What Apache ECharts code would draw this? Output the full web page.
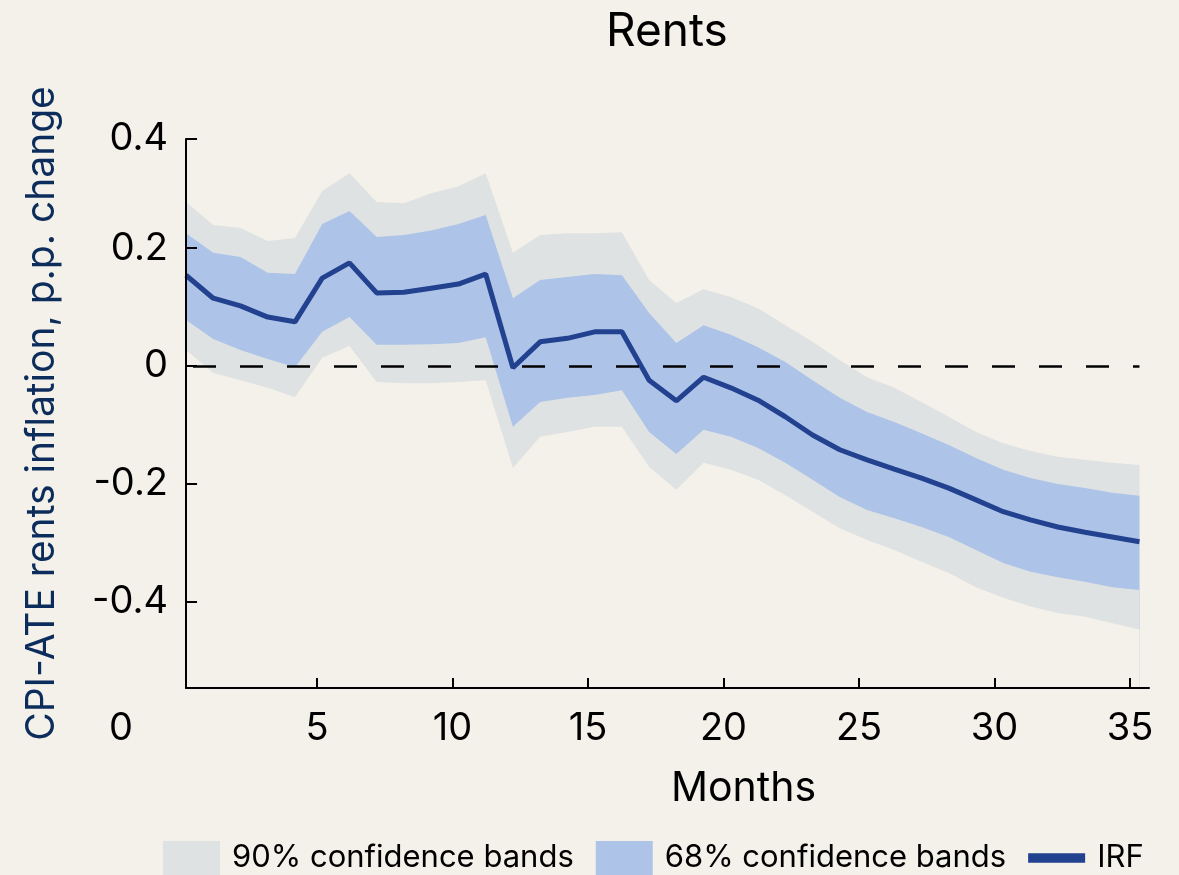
<!DOCTYPE html>
<html>
<head>
<meta charset="utf-8">
<script src="https://cdn.jsdelivr.net/npm/echarts@6/dist/echarts.min.js"></script>
<style>
html, body { margin: 0; background: #f4f1ea; }
#chart { width: 1179px; height: 875px; }
</style>
</head>
<body>
<div id="chart"></div>
<script>
const months = [0, 1, 2, 3, 4, 5, 6, 7, 8, 9, 10, 11, 12, 13, 14, 15, 16, 17, 18, 19, 20, 21, 22, 23, 24, 25, 26, 27, 28, 29, 30, 31, 32, 33, 34, 35]
const irf = [0.154, 0.115, 0.102, 0.083, 0.075, 0.149, 0.175, 0.124, 0.125, 0.132, 0.139, 0.156, -0.003, 0.041, 0.047, 0.058, 0.058, -0.024, -0.059, -0.019, -0.037, -0.058, -0.086, -0.117, -0.142, -0.159, -0.175, -0.19, -0.207, -0.227, -0.247, -0.261, -0.273, -0.282, -0.29, -0.298]
const hi68 = [0.225, 0.192, 0.185, 0.158, 0.156, 0.241, 0.263, 0.219, 0.222, 0.23, 0.241, 0.256, 0.115, 0.146, 0.151, 0.156, 0.154, 0.09, 0.039, 0.069, 0.053, 0.032, 0.007, -0.024, -0.054, -0.078, -0.095, -0.114, -0.134, -0.156, -0.176, -0.19, -0.2, -0.207, -0.215, -0.22]
const lo68 = [0.078, 0.046, 0.027, 0.012, -0.002, 0.058, 0.083, 0.036, 0.036, 0.037, 0.039, 0.049, -0.103, -0.061, -0.054, -0.049, -0.041, -0.112, -0.149, -0.108, -0.12, -0.139, -0.164, -0.193, -0.222, -0.244, -0.258, -0.273, -0.29, -0.312, -0.334, -0.349, -0.358, -0.366, -0.375, -0.38]
const hi90 = [0.278, 0.239, 0.234, 0.212, 0.217, 0.297, 0.327, 0.278, 0.276, 0.293, 0.305, 0.327, 0.192, 0.222, 0.225, 0.225, 0.227, 0.146, 0.107, 0.13, 0.117, 0.098, 0.069, 0.041, 0.01, -0.019, -0.037, -0.061, -0.086, -0.112, -0.131, -0.144, -0.154, -0.159, -0.164, -0.168]
const lo90 = [0.027, -0.012, -0.024, -0.037, -0.053, 0.014, 0.034, -0.027, -0.029, -0.029, -0.027, -0.024, -0.173, -0.12, -0.112, -0.103, -0.103, -0.171, -0.21, -0.164, -0.176, -0.193, -0.219, -0.247, -0.275, -0.295, -0.312, -0.332, -0.351, -0.375, -0.393, -0.408, -0.419, -0.425, -0.436, -0.447]

const xTicks = [5, 10, 15, 20, 25, 30, 35]
const yTicks = [-0.4, -0.2, 0, 0.2]

// axis extents (tick axis sits a bit left of the plotted data)
const xMin = 0.166, xMax = 35.7
const yMin = -0.546, yMax = 0.385

const bg = '#f4f1ea'
const grey = '#dfe2e3'
const blue = '#adc3e8'
const navy = '#22418f'
const font = 'Inter'

const myChart = echarts.init(document.getElementById('chart'), null, { renderer: 'canvas' })

const pairs = (vals) => months.map((m, i) => [m, vals[i]])

// bands are painted as filled areas from the bottom, each one over the previous
const fillTo = (name, vals, color) => ({
	name: name,
	type: 'line',
	xAxisIndex: 1,
	symbol: 'none',
	silent: true,
	data: pairs(vals),
	itemStyle: { color: color },
	lineStyle: { width: 0, opacity: 0 },
	areaStyle: { color: color, opacity: 1, origin: 'start' },
})

let option = {
	backgroundColor: bg,
	animation: false,
	textStyle: { fontFamily: font },
	title: [
		{ text: 'Rents', left: 601, top: 4, textStyle: { fontFamily: font, fontSize: 46, fontWeight: 'normal', color: '#000' } },
		{ text: 'Months', left: 666, top: 763, textStyle: { fontFamily: font, fontSize: 41, fontWeight: 'normal', color: '#000' } },
	],
	legend: {
		left: 163,
		top: 841,
		padding: 0,
		itemWidth: 57,
		itemHeight: 34,
		itemGap: 22,
		selectedMode: false,
		symbolKeepAspect: true,
		textStyle: { fontFamily: font, fontSize: 31, color: '#000', padding: [0, 0, 0, 7] },
		data: [
			{ name: '90% confidence bands', icon: 'rect' },
			{ name: '68% confidence bands', icon: 'rect' },
			{ name: 'IRF', icon: 'path://M0,0H60V10H0Z', itemStyle: { color: navy } },
		],
	},
	grid: { left: 186, right: 30, top: 139, bottom: 187 },
	xAxis: [
		{
			type: 'value',
			min: xMin,
			max: xMax,
			z: 10,
			axisLine: { show: true, onZero: false, lineStyle: { color: '#000', width: 2 } },
			axisTick: { show: true, inside: true, length: 10, customValues: xTicks, lineStyle: { color: '#000', width: 2 } },
			axisLabel: {
				customValues: [xMin].concat(xTicks),
				margin: 22,
				fontFamily: font,
				fontSize: 38,
				color: '#000',
				formatter: (v) => (v < 1 ? '{z|0}' : String(v)),
				rich: { z: { fontFamily: font, fontSize: 38, color: '#000', padding: [0, 130, 0, 0] } },
			},
			splitLine: { show: false },
		},
		{ type: 'value', min: 0, max: 35.35, show: false, axisLine: { onZero: false } },
	],
	yAxis: {
		type: 'value',
		min: yMin,
		max: yMax,
		z: 10,
		name: 'CPI-ATE rents inflation, p.p. change',
		nameLocation: 'middle',
		nameGap: 124,
		nameTextStyle: { fontFamily: font, fontSize: 39, color: '#0c2d5b' },
		axisLine: { show: true, onZero: false, lineStyle: { color: '#000', width: 2 } },
		axisTick: { show: true, inside: true, length: 11, customValues: yTicks.concat([yMax]), lineStyle: { color: '#000', width: 2 } },
		axisLabel: {
			customValues: yTicks.concat([yMax]),
			margin: 18,
			fontFamily: font,
			fontSize: 38,
			color: '#000',
			formatter: (v) => (v > 0.3 ? '0.4' : String(Math.round(v * 10) / 10)),
		},
		splitLine: { show: false },
	},
	series: [
		fillTo('90% confidence bands', hi90, grey),
		fillTo('68% confidence bands', hi68, blue),
		fillTo('lower 68', lo68, grey),
		fillTo('lower 90', lo90, bg),
		{
			name: 'IRF',
			type: 'line',
			xAxisIndex: 1,
			symbol: 'none',
			data: pairs(irf),
			itemStyle: { color: navy },
			lineStyle: { color: navy, width: 5 },
			markLine: {
				silent: true,
				symbol: 'none',
				label: { show: false },
				lineStyle: { color: '#000', width: 2.5, type: [23, 24], dashOffset: 40 },
				data: [[{ coord: [0, 0] }, { coord: [35, 0] }]],
			},
		},
	],
}
myChart.setOption(option)

window.addEventListener('resize', () => {
	myChart.resize()
})
</script>
</body>
</html>
